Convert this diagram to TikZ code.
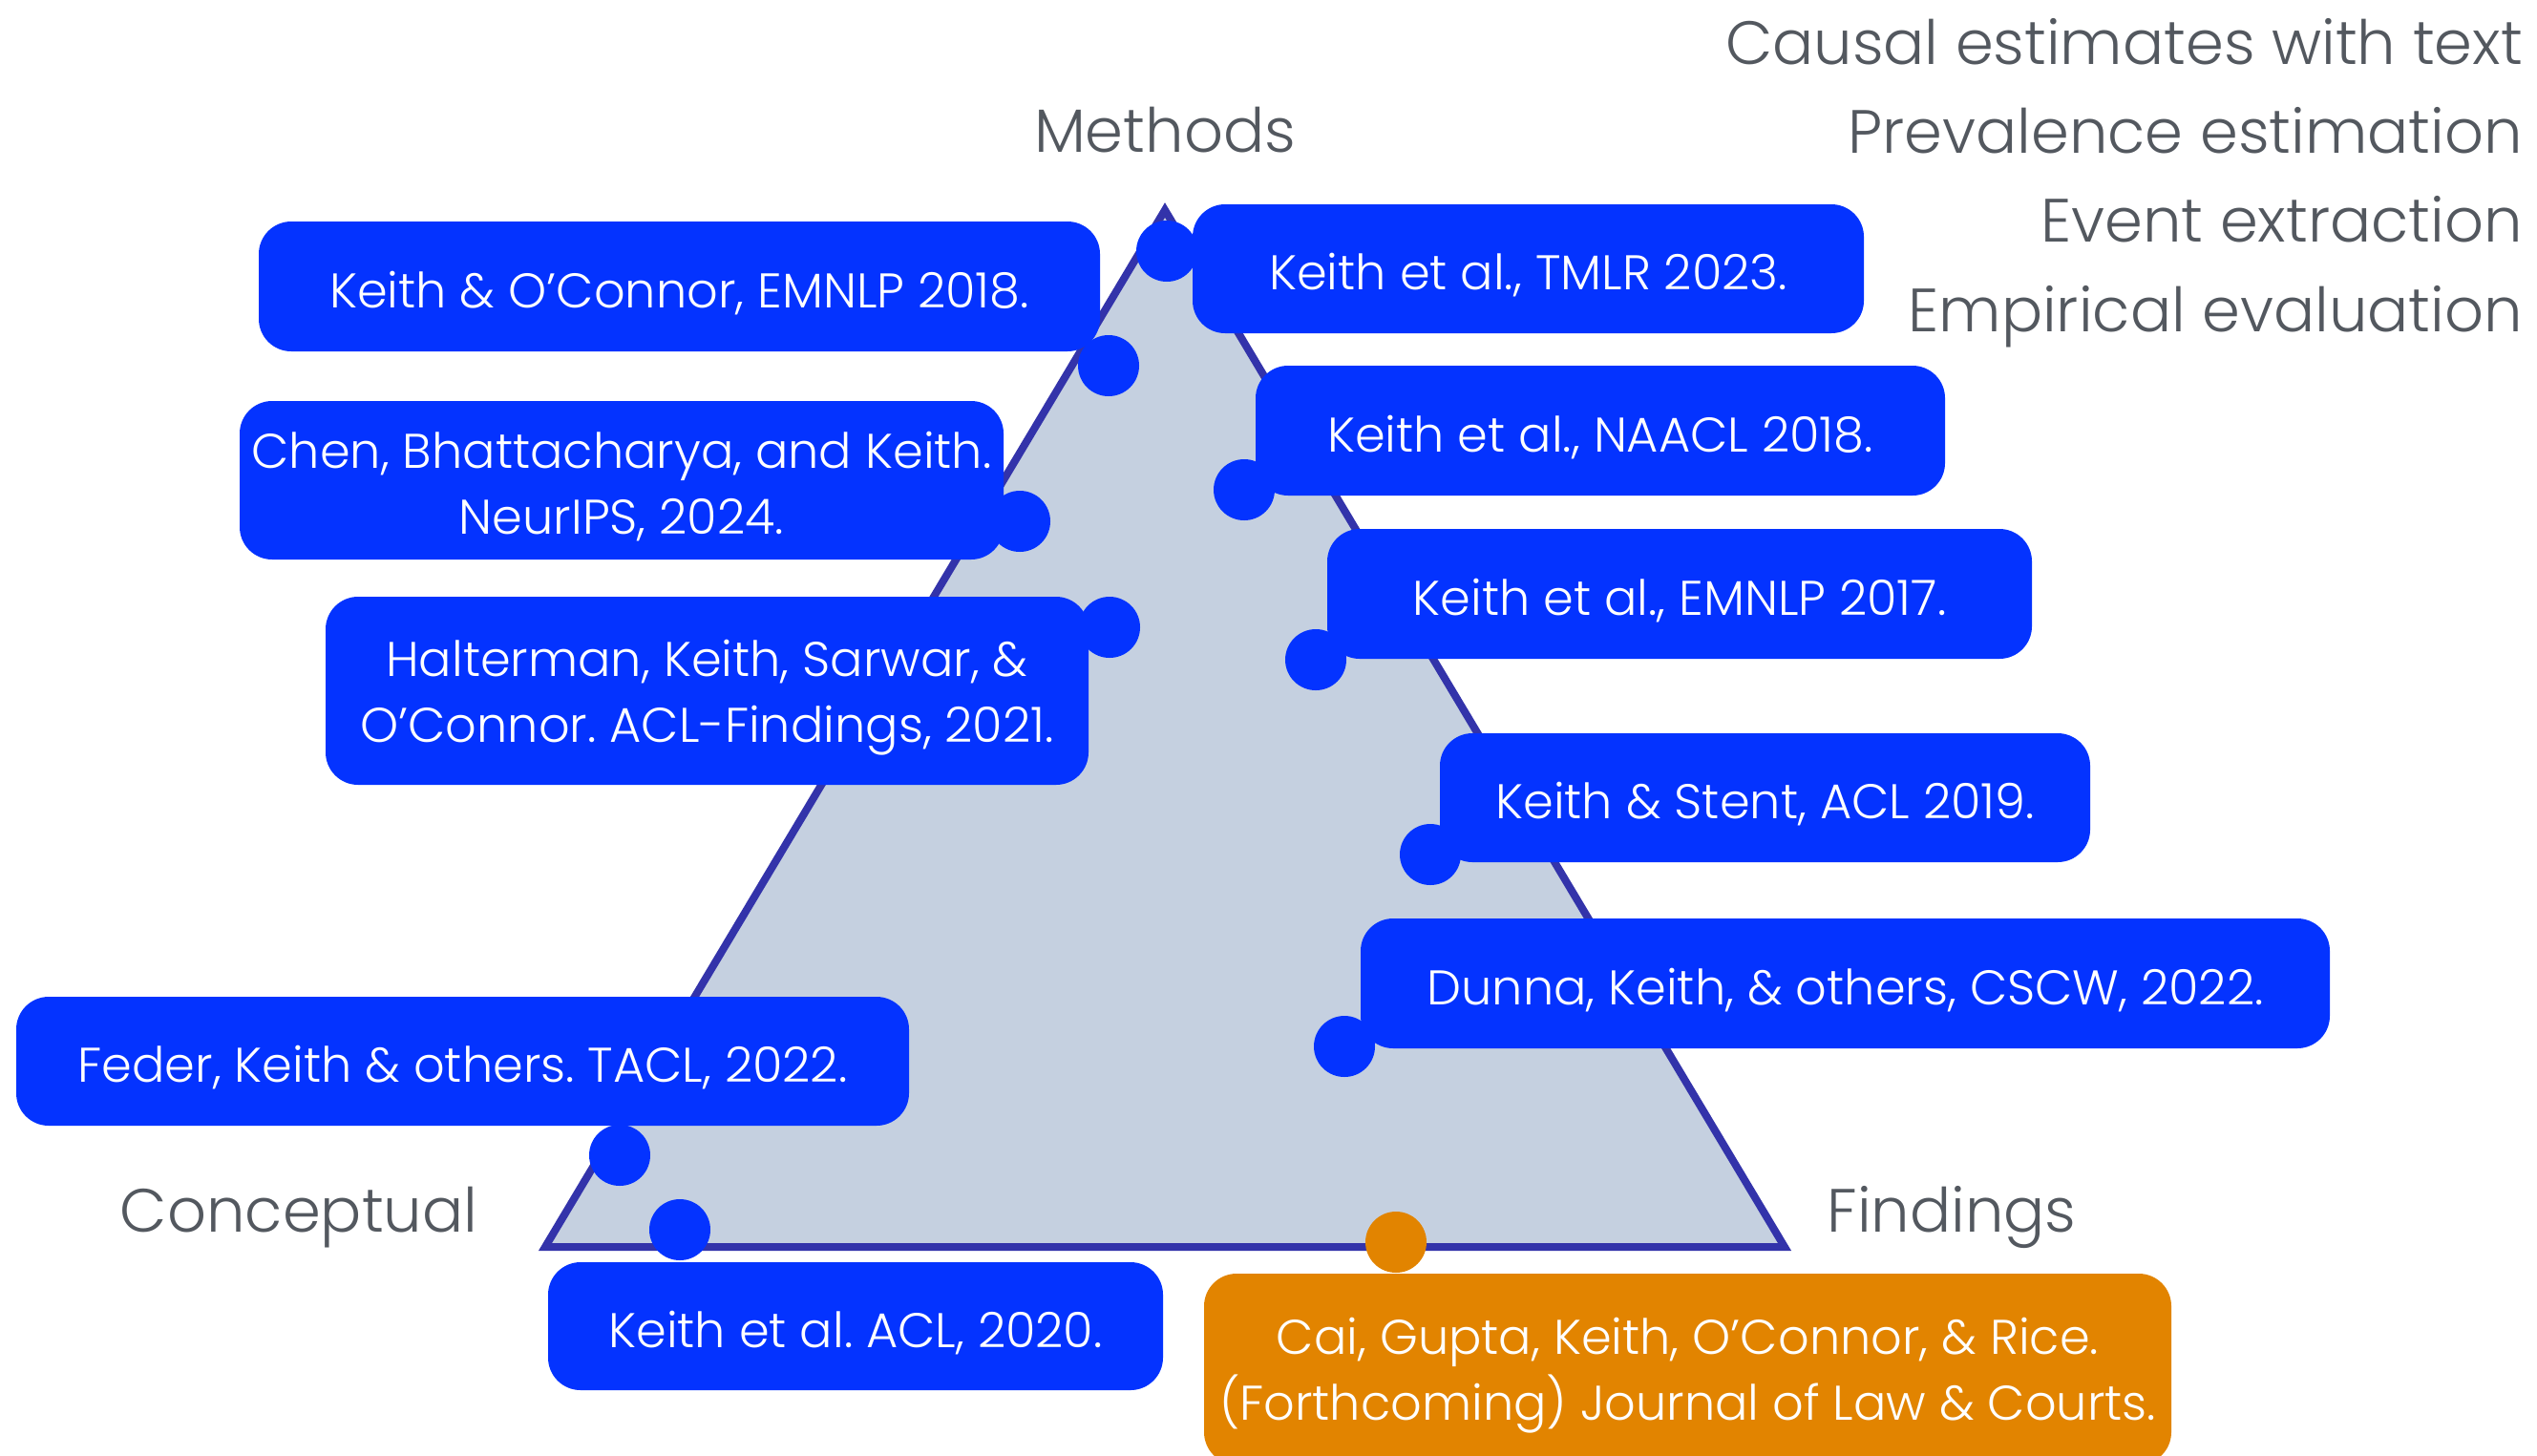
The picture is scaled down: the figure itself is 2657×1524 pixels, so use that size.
\documentclass[tikz,border=0pt]{standalone}
\usepackage{fontspec}
\setmainfont{Poppins Light}
\frenchspacing
\definecolor{bblue}{HTML}{0433FF}
\definecolor{borange}{HTML}{E28400}
\definecolor{trifill}{HTML}{C5D0E0}
\definecolor{tristroke}{HTML}{3333AA}
\definecolor{lblgray}{HTML}{53585F}
\tikzset{
  callbox/.style={fill=bblue, rounded corners=34pt, inner sep=0pt},
  boxtext/.style={text=white, align=center, inner sep=0pt,
    font=\fontsize{51}{69}\selectfont, yshift=-7pt},
  calldot/.style={circle, fill=bblue, minimum size=64pt, inner sep=0pt},
  orangebox/.style={callbox, fill=borange},
  orangedot/.style={calldot, fill=borange},
  headlbl/.style={text=lblgray, inner sep=0pt, font=\fontsize{64}{80}\selectfont},
  toplbl/.style={headlbl, anchor=base east},
}
\begin{document}
\begin{tikzpicture}[x=1pt,y=-1pt]
\useasboundingbox (0,0) rectangle (2657,1524);
% triangle
\draw[tristroke, fill=trifill, line width=8pt, line join=miter]
  (1220,220) -- (1869,1306) -- (571,1306) -- cycle;
% labels
\node[toplbl] (l1) at (2642,67) {Causal estimates with text};
\node[toplbl] (l2) at (2642,160) {Prevalence estimation};
\node[toplbl] (l3) at (2642,253) {Event extraction};
\node[toplbl] (l4) at (2642,347) {Empirical evaluation};
\node[headlbl] (meth) at (1220,136) {Methods};
\node[headlbl] (conc) at (313,1275) {Conceptual};
\node[headlbl] (find) at (2044,1275) {Findings};
% dots
\node[calldot] (d1) at (1161,383) {};
\node[calldot] (d2) at (1222,263) {};
\node[calldot] (d3) at (1068,546) {};
\node[calldot] (d4) at (1303,513) {};
\node[calldot] (d5) at (1162,657) {};
\node[calldot] (d6) at (1378,691) {};
\node[calldot] (d7) at (1498,895) {};
\node[calldot] (d8) at (1408,1096) {};
\node[calldot] (d9) at (649,1210) {};
\node[calldot] (d10) at (712,1288) {};
\node[orangedot] (d11) at (1462,1301) {};
% boxes
\node[callbox, minimum width=881pt, minimum height=136pt] (b1) at (711.5,300) {};
\node[boxtext] (t1) at (b1) {Keith \& O’Connor, EMNLP 2018.};
\node[callbox, minimum width=703pt, minimum height=135pt] (b2) at (1600.5,281.5) {};
\node[boxtext] (t2) at (b2) {Keith et al., TMLR 2023.};
\node[callbox, minimum width=800pt, minimum height=166pt] (b3) at (651,503) {};
\node[boxtext] (t3) at (b3) {Chen, Bhattacharya, and Keith.\\NeurIPS, 2024.};
\node[callbox, minimum width=722pt, minimum height=136pt] (b4) at (1676,451) {};
\node[boxtext] (t4) at (b4) {Keith et al., NAACL 2018.};
\node[callbox, minimum width=799pt, minimum height=197pt] (b5) at (740.5,723.5) {};
\node[boxtext] (t5) at (b5) {Halterman, Keith, Sarwar, \&\\O’Connor. ACL-Findings, 2021.};
\node[callbox, minimum width=738pt, minimum height=136pt] (b6) at (1759,622) {};
\node[boxtext] (t6) at (b6) {Keith et al., EMNLP 2017.};
\node[callbox, minimum width=681pt, minimum height=135pt] (b7) at (1848.5,835.5) {};
\node[boxtext] (t7) at (b7) {Keith \& Stent, ACL 2019.};
\node[callbox, minimum width=1015pt, minimum height=136pt] (b8) at (1932.5,1030) {};
\node[boxtext] (t8) at (b8) {Dunna, Keith, \& others, CSCW, 2022.};
\node[callbox, minimum width=935pt, minimum height=135pt] (b9) at (484.5,1111.5) {};
\node[boxtext] (t9) at (b9) {Feder, Keith \& others. TACL, 2022.};
\node[callbox, minimum width=644pt, minimum height=134pt] (b10) at (896,1389) {};
\node[boxtext] (t10) at (b10) {Keith et al. ACL, 2020.};
\node[orangebox, minimum width=1013pt, minimum height=200pt] (b11) at (1767.5,1434) {};
\node[boxtext] (t11) at (b11) {Cai, Gupta, Keith, O’Connor, \& Rice.\\(Forthcoming) Journal of Law \& Courts.};
\end{tikzpicture}
\end{document}
